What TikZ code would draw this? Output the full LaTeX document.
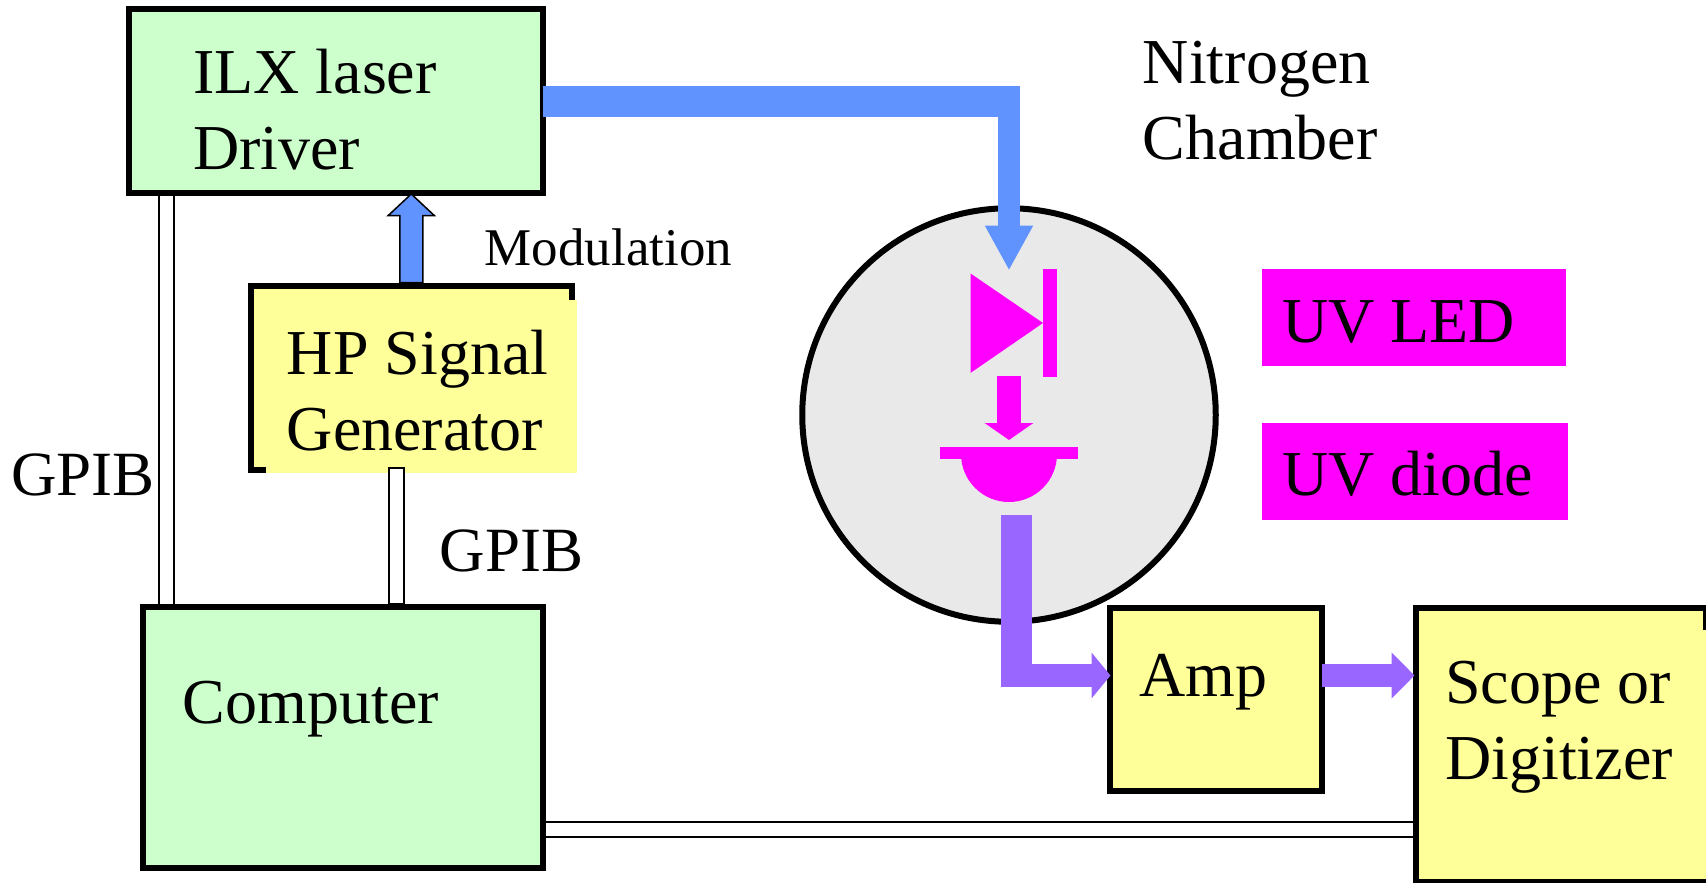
\documentclass[tikz,border=0pt]{standalone}
\usepackage{fontspec}
\setmainfont{Liberation Serif}
\usetikzlibrary{arrows.meta,calc}
\definecolor{grn}{HTML}{CCFFCC}
\definecolor{yel}{HTML}{FFFF99}
\definecolor{blu}{HTML}{6193FF}
\definecolor{pur}{HTML}{9966FF}
\definecolor{mag}{HTML}{FF00FF}
\definecolor{chamberg}{HTML}{E9E9E9}
\tikzset{
  boxn/.style={draw=black,line width=6pt,inner sep=0pt,rectangle},
  txt/.style={inner sep=0pt,anchor=base west,align=left,font=\fontsize{64}{76}\selectfont},
  txtgpib/.style={inner sep=0pt,anchor=base west,font=\fontsize{63}{76}\selectfont},
  txtsmall/.style={inner sep=0pt,anchor=base west,font=\fontsize{53}{60}\selectfont},
  cover/.style={fill=yel,inner sep=0pt,rectangle},
  tag/.style={fill=mag,inner sep=0pt,rectangle},
  bus/.style={draw=black,line width=2pt,double=white,double distance=13pt},
}
\begin{document}
\begin{tikzpicture}[x=1pt,y=-1pt]
\useasboundingbox (0,0) rectangle (1706,883);
% chamber
\node[circle,draw=black,fill=chamberg,line width=6pt,inner sep=0pt,minimum size=413.5pt] (chamber) at (1009,415) {};
% boxes
\node[boxn,fill=grn,minimum width=414pt,minimum height=184pt] (ilx) at (335.5,101) {};
\node[boxn,fill=grn,minimum width=399.5pt,minimum height=260.5pt] (comp) at (342.75,737.5) {};
\node[boxn,fill=yel,minimum width=321.5pt,minimum height=184pt] (hp) at (411.25,377.5) {};
\node[cover,minimum width=311pt,minimum height=173pt] (hpcover) at (421.5,386.5) {};
\node[boxn,fill=yel,minimum width=212.5pt,minimum height=183pt] (amp) at (1215.75,699) {};
\node[boxn,fill=yel,minimum width=290pt,minimum height=274pt] (scope) at (1560.5,744.5) {};
\node[cover,minimum width=281pt,minimum height=249pt] (scopecover) at (1565.5,754.5) {};
\node[tag,minimum width=304pt,minimum height=97pt] (tagled) at (1414,317.5) {};
\node[tag,minimum width=306pt,minimum height=97pt] (tagdiode) at (1415,471.5) {};
% GPIB buses
\coordinate (busleft) at (166,0);
\coordinate (bushpl) at (388.5,468);
\coordinate (bushpr) at (403.5,0);
\coordinate (busbot) at (0,829);
\draw[bus] (ilx.south -| busleft) -- (comp.north -| busleft);
\draw[bus] (comp.east |- busbot) -- (scope.west |- busbot);
\draw[black,line width=2pt,fill=white] (bushpl) rectangle (comp.north -| bushpr);
% laser drive
\coordinate (bluecorner) at (1020,101.5);
\coordinate (bluetop) at (1009,86);
\coordinate (ledtop) at (1009,270.5);
\draw[blu,line width=30.6pt] ([xshift=-3pt,yshift=-0.5pt]ilx.east) -- (bluecorner);
\draw[blu,line width=22pt,-{Triangle[width=45pt,length=45pt]}] (bluetop) -- (ledtop);
% modulation arrow
\coordinate (modtip) at ([yshift=2pt]hp.north |- ilx.south);
\draw[black,line width=1.5pt,fill=blu,line join=miter]
  (modtip) -- ++(23,21.5) -- ++(-11.5,0) -- ([xshift=11.5pt]hp.north)
  -- ([xshift=-11.5pt]hp.north) -- ($(modtip)+(-11.5,21.5)$) -- ++(-11.5,0) -- cycle;
% purple
\coordinate (purtop) at (1016.5,515);
\coordinate (purbot) at (1016.5,687);
\coordinate (purcorner) at (1001,675.5);
\draw[pur,line width=31pt] (purtop) -- (purbot);
\draw[pur,line width=23pt,shorten >=-4pt,-{Triangle[width=45pt,length=19pt]}] (purcorner) -- (amp.west |- purcorner);
\draw[pur,line width=23pt,shorten <=-3pt,shorten >=-2pt,-{Triangle[width=45pt,length=23pt]}] (amp.east |- purcorner) -- (scope.west |- purcorner);
% LED
\fill[mag] (970.7,273.6) -- (1043,323) -- (970.7,372.8) -- cycle;
\fill[mag] (1043,268.8) rectangle (1057,377);
\coordinate (magtop) at (1009,376);
\coordinate (magtip) at (1009,440);
\draw[mag,line width=24.3pt,-{Triangle[width=48pt,length=17pt]}] (magtop) -- (magtip);
% photodiode
\fill[mag] (940,447) rectangle (1078,459.2);
\fill[mag] (961,454) arc[start angle=180,end angle=0,radius=48] -- cycle;
% labels
\node[txt] (t1) at (193,169.5) {ILX laser\\Driver};
\node[txt] (t2) at (286.7,450) {HP Signal\\Generator};
\node[txt] (t3) at (182.7,723) {Computer};
\node[txt] (t4) at (1142.7,159) {Nitrogen\\Chamber};
\node[txtsmall] (t5) at (484.5,265.5) {Modulation};
\node[txtgpib] (t6) at (11,495) {GPIB};
\node[txtgpib] (t7) at (439.5,571) {GPIB};
\node[txt] (t8) at (1282,342) {UV LED};
\node[txt] (t9) at (1282,495) {UV diode};
\node[txt] (t10) at (1139,696) {Amp};
\node[txt] (t11) at (1445,779) {Scope or\\Digitizer};
\end{tikzpicture}
\end{document}
